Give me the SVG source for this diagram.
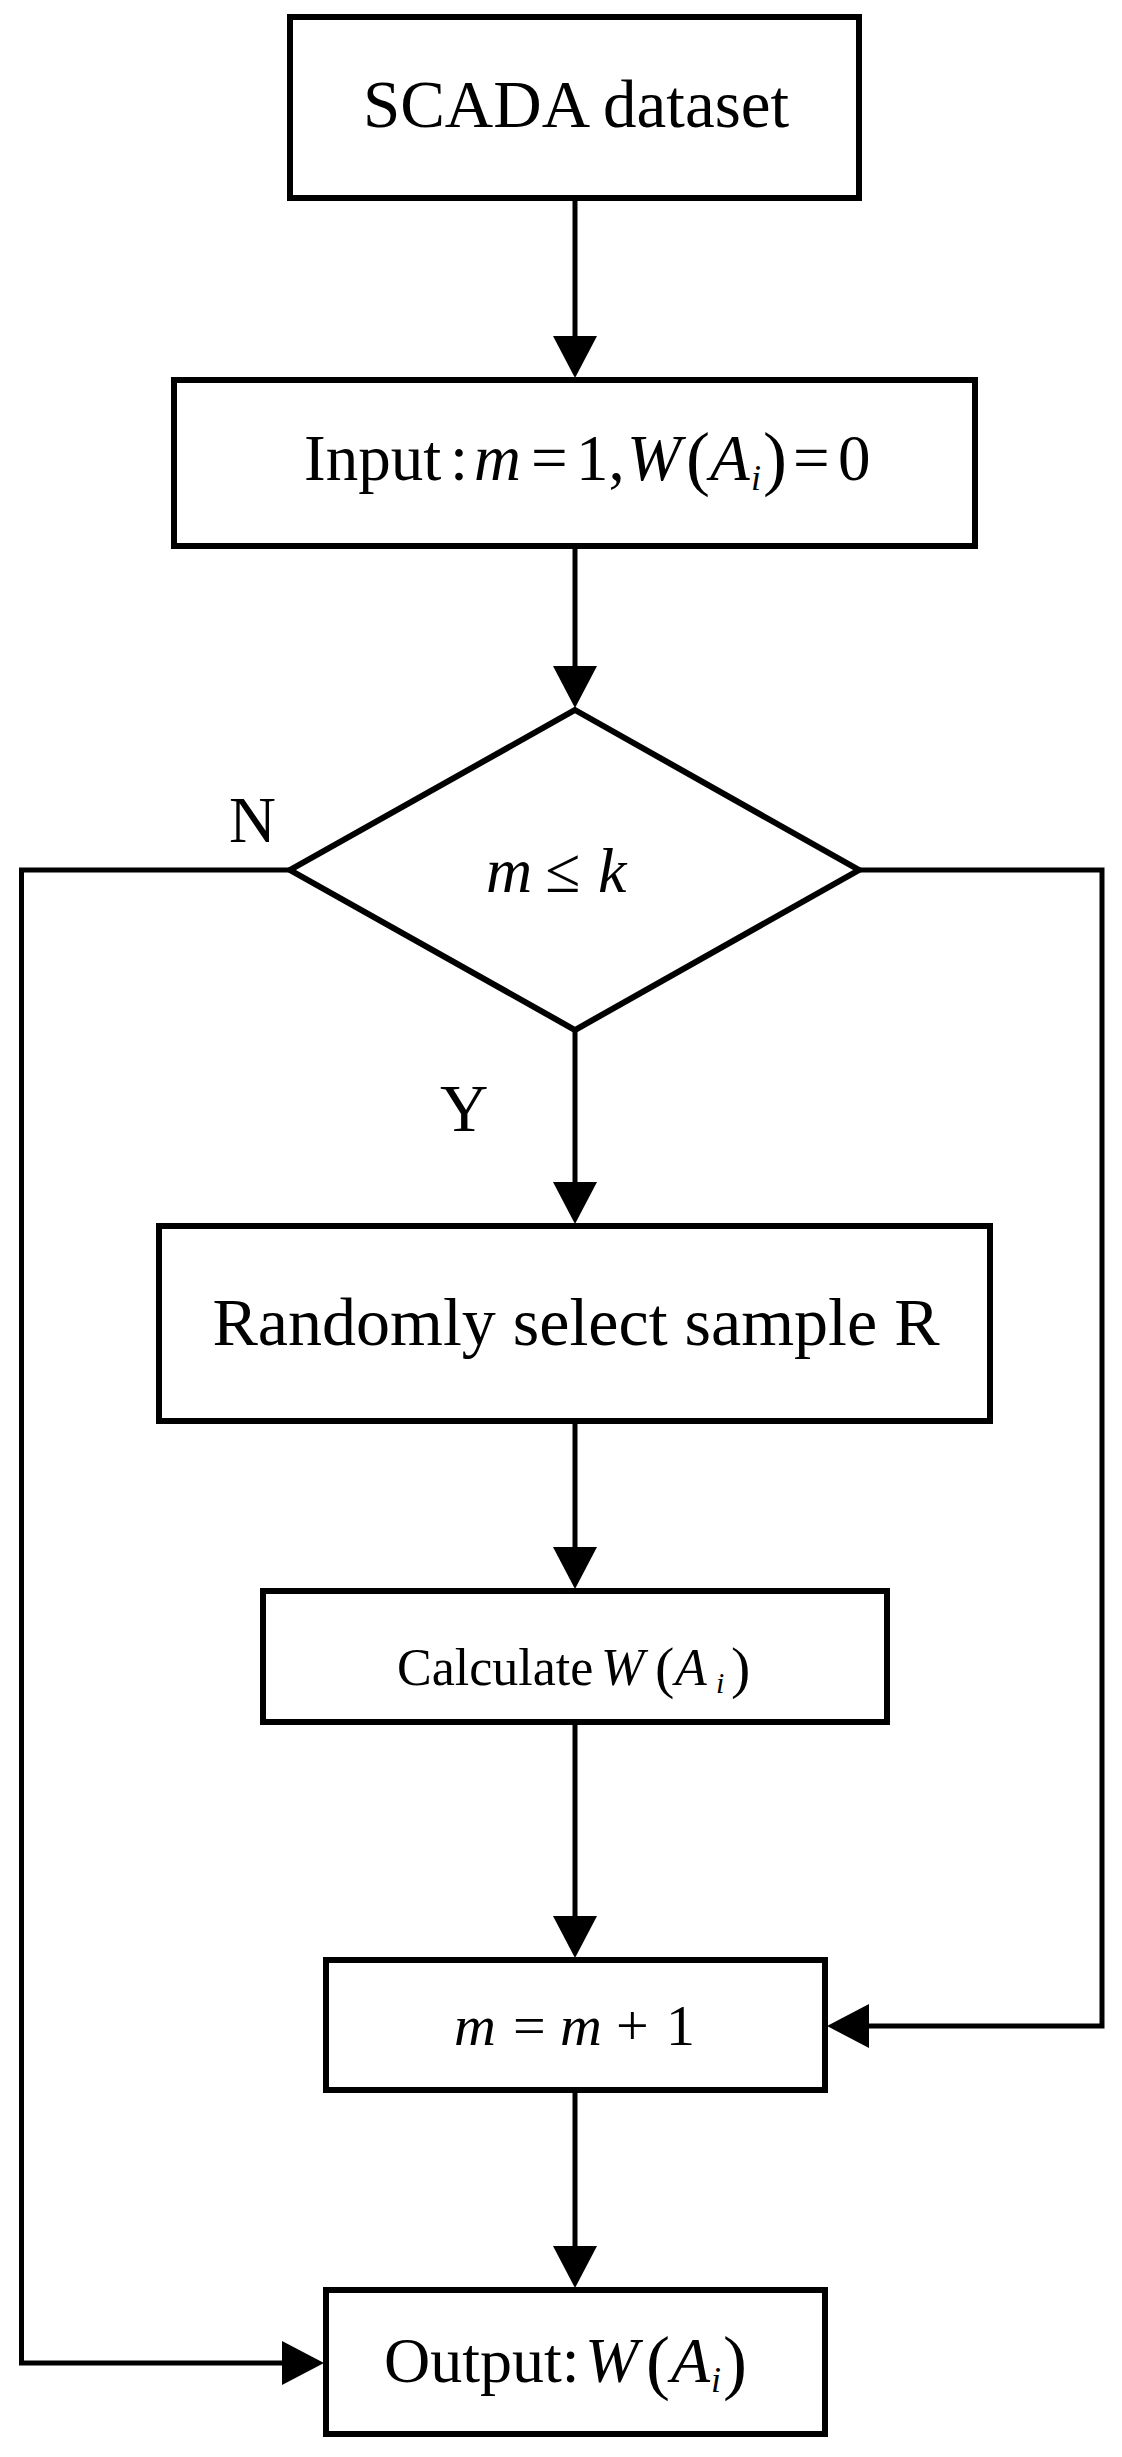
<svg xmlns="http://www.w3.org/2000/svg" width="1122" height="2457" viewBox="0 0 1122 2457">
<style>
.box{fill:#fff;stroke:#000;stroke-width:6;stroke-linejoin:miter}
.con{fill:none;stroke:#000;stroke-width:5;stroke-linejoin:miter}
.t{font-family:"Liberation Serif","Times New Roman",serif;fill:#000}
.it{font-style:italic}
</style>
<defs>
<marker id="ah" markerUnits="userSpaceOnUse" markerWidth="42" markerHeight="44" refX="22" refY="22" orient="auto" viewBox="0 0 42 44">
<path d="M0,0 L42,22 L0,44 Z" fill="#000"/>
</marker>
</defs>
<rect width="1122" height="2457" fill="#fff"/>
<g id="connectors">
<path class="con" d="M575,198 L575,358" marker-end="url(#ah)"/>
<path class="con" d="M575,546 L575,688" marker-end="url(#ah)"/>
<path class="con" d="M575,1030 L575,1204" marker-end="url(#ah)"/>
<path class="con" d="M575,1421 L575,1569" marker-end="url(#ah)"/>
<path class="con" d="M575,1722 L575,1938" marker-end="url(#ah)"/>
<path class="con" d="M575,2090 L575,2268" marker-end="url(#ah)"/>
<path class="con" d="M290,870 L21.5,870 L21.5,2363 L304,2363" marker-end="url(#ah)"/>
<path class="con" d="M859,870 L1102,870 L1102,2026 L847,2026" marker-end="url(#ah)"/>
</g>
<g id="n-scada">
<rect class="box" x="290" y="17" width="569" height="181"/>
<text class="t" x="576" y="127" font-size="67" text-anchor="middle">SCADA dataset</text>
</g>
<g id="n-input">
<rect class="box" x="174" y="380" width="801" height="166"/>
<text class="t" y="480" font-size="65"><tspan x="304">Input</tspan><tspan x="450">:</tspan><tspan x="474" class="it">m</tspan><tspan x="531">=</tspan><tspan x="576">1,</tspan><tspan x="627" class="it">W</tspan><tspan x="686" y="482" font-size="72">(</tspan><tspan x="710" y="480" class="it">A</tspan><tspan x="751" y="490" class="it" font-size="36">i</tspan><tspan x="763" y="482" font-size="72">)</tspan><tspan x="793" y="480">=</tspan><tspan x="838">0</tspan></text>
</g>
<g id="n-decision">
<polygon class="box" points="575,710 859,870 575,1030 290,870"/>
<text class="t" y="892" font-size="64"><tspan x="486" class="it">m</tspan><tspan x="545">≤</tspan><tspan x="598" class="it">k</tspan></text>
</g>
<g id="labels">
<text class="t" x="229" y="842" font-size="65">N</text>
<text class="t" x="440" y="1131" font-size="67">Y</text>
</g>
<g id="n-random">
<rect class="box" x="159" y="1226" width="831" height="195"/>
<text class="t" x="576" y="1345" font-size="68" text-anchor="middle">Randomly select sample R</text>
</g>
<g id="n-calc">
<rect class="box" x="263" y="1591" width="624" height="131"/>
<text class="t" y="1685" font-size="52"><tspan x="397">Calculate</tspan><tspan x="601" class="it">W</tspan><tspan x="655" y="1687" font-size="58">(</tspan><tspan x="675" y="1685" class="it">A</tspan><tspan x="716" y="1693" class="it" font-size="30">i</tspan><tspan x="731" y="1687" font-size="58">)</tspan></text>
</g>
<g id="n-inc">
<rect class="box" x="326" y="1960" width="499" height="130"/>
<text class="t" y="2045" font-size="58"><tspan x="454" class="it">m</tspan><tspan x="513">=</tspan><tspan x="560" class="it">m</tspan><tspan x="616">+</tspan><tspan x="666">1</tspan></text>
</g>
<g id="n-output">
<rect class="box" x="326" y="2290" width="499" height="144"/>
<text class="t" y="2382" font-size="64"><tspan x="384">Output:</tspan><tspan x="585" class="it">W</tspan><tspan x="646" y="2386" font-size="72">(</tspan><tspan x="671" y="2382" class="it">A</tspan><tspan x="711" y="2392" class="it" font-size="36">i</tspan><tspan x="723" y="2386" font-size="72">)</tspan></text>
</g>
</svg>
